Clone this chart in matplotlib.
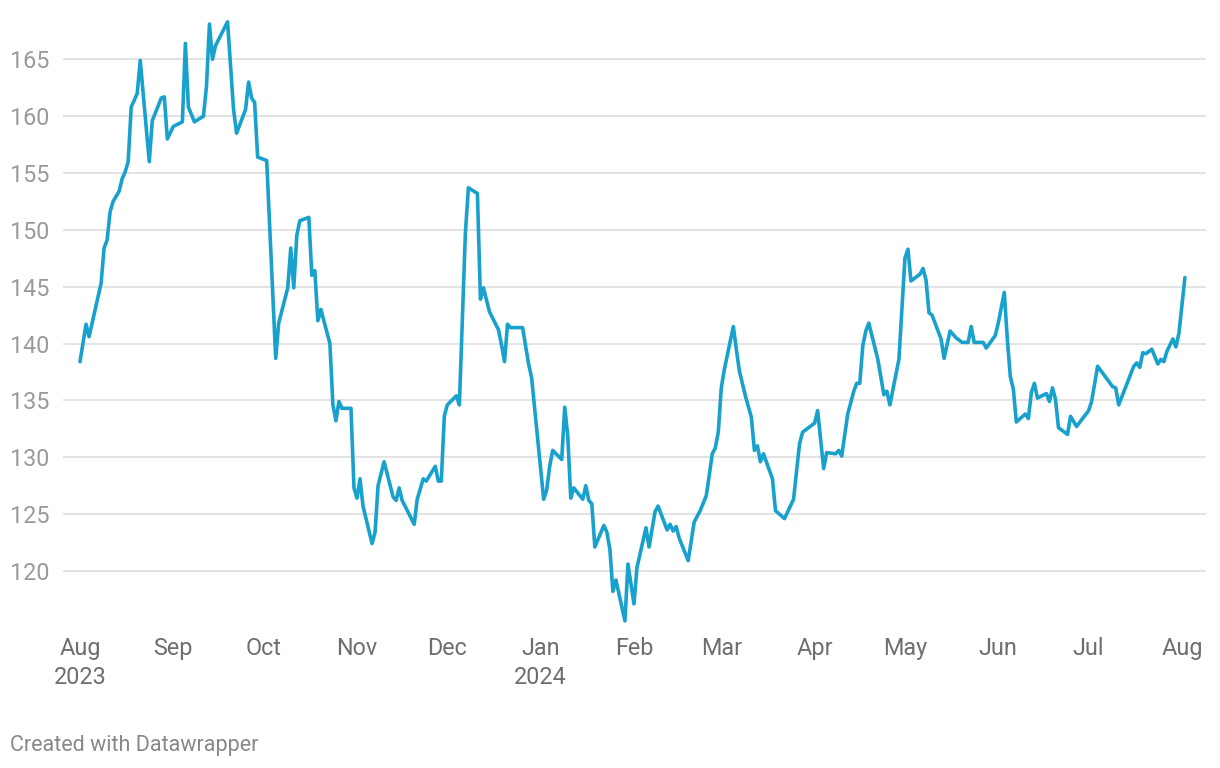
import matplotlib
matplotlib.use('Agg')
import matplotlib.pyplot as plt
import pandas as pd

dates = [
    '2023-08-01', '2023-08-03', '2023-08-04', '2023-08-08', '2023-08-09', '2023-08-10',
    '2023-08-11', '2023-08-12', '2023-08-14', '2023-08-15', '2023-08-16', '2023-08-17',
    '2023-08-18', '2023-08-20', '2023-08-21', '2023-08-24', '2023-08-25', '2023-08-28',
    '2023-08-29', '2023-08-30', '2023-09-01', '2023-09-04', '2023-09-05', '2023-09-06',
    '2023-09-08', '2023-09-11', '2023-09-12', '2023-09-13', '2023-09-14', '2023-09-15',
    '2023-09-19', '2023-09-21', '2023-09-22', '2023-09-25', '2023-09-26', '2023-09-27',
    '2023-09-28', '2023-09-29', '2023-10-02', '2023-10-05', '2023-10-06', '2023-10-09',
    '2023-10-10', '2023-10-11', '2023-10-12', '2023-10-13', '2023-10-16', '2023-10-17',
    '2023-10-18', '2023-10-19', '2023-10-20', '2023-10-23', '2023-10-24', '2023-10-25',
    '2023-10-26', '2023-10-27', '2023-10-30', '2023-10-31', '2023-11-01', '2023-11-02',
    '2023-11-03', '2023-11-06', '2023-11-07', '2023-11-08', '2023-11-10', '2023-11-13',
    '2023-11-14', '2023-11-15', '2023-11-16', '2023-11-20', '2023-11-21', '2023-11-23',
    '2023-11-24', '2023-11-27', '2023-11-28', '2023-11-29', '2023-11-30', '2023-12-01',
    '2023-12-04', '2023-12-05', '2023-12-07', '2023-12-08', '2023-12-11', '2023-12-12',
    '2023-12-13', '2023-12-15', '2023-12-18', '2023-12-19', '2023-12-20', '2023-12-21',
    '2023-12-22', '2023-12-26', '2023-12-28', '2023-12-29', '2024-01-02', '2024-01-03',
    '2024-01-04', '2024-01-05', '2024-01-08', '2024-01-09', '2024-01-10', '2024-01-11',
    '2024-01-12', '2024-01-15', '2024-01-16', '2024-01-17', '2024-01-18', '2024-01-19',
    '2024-01-22', '2024-01-23', '2024-01-24', '2024-01-25', '2024-01-26', '2024-01-29',
    '2024-01-30', '2024-02-01', '2024-02-02', '2024-02-05', '2024-02-06', '2024-02-08',
    '2024-02-09', '2024-02-12', '2024-02-13', '2024-02-14', '2024-02-15', '2024-02-16',
    '2024-02-19', '2024-02-21', '2024-02-23', '2024-02-25', '2024-02-26', '2024-02-27',
    '2024-02-28', '2024-02-29', '2024-03-01', '2024-03-02', '2024-03-05', '2024-03-06',
    '2024-03-07', '2024-03-09', '2024-03-11', '2024-03-12', '2024-03-13', '2024-03-14',
    '2024-03-15', '2024-03-18', '2024-03-19', '2024-03-22', '2024-03-25', '2024-03-27',
    '2024-03-28', '2024-04-01', '2024-04-02', '2024-04-04', '2024-04-05', '2024-04-08',
    '2024-04-09', '2024-04-10', '2024-04-12', '2024-04-14', '2024-04-15', '2024-04-16',
    '2024-04-17', '2024-04-18', '2024-04-19', '2024-04-22', '2024-04-24', '2024-04-25',
    '2024-04-26', '2024-04-29', '2024-05-01', '2024-05-02', '2024-05-03', '2024-05-06',
    '2024-05-07', '2024-05-08', '2024-05-09', '2024-05-10', '2024-05-13', '2024-05-14',
    '2024-05-16', '2024-05-18', '2024-05-20', '2024-05-22', '2024-05-23', '2024-05-24',
    '2024-05-27', '2024-05-28', '2024-05-31', '2024-06-01', '2024-06-03', '2024-06-04',
    '2024-06-05', '2024-06-06', '2024-06-07', '2024-06-10', '2024-06-11', '2024-06-12',
    '2024-06-13', '2024-06-14', '2024-06-17', '2024-06-18', '2024-06-19', '2024-06-20',
    '2024-06-21', '2024-06-24', '2024-06-25', '2024-06-27', '2024-06-29', '2024-07-01',
    '2024-07-02', '2024-07-04', '2024-07-09', '2024-07-10', '2024-07-11', '2024-07-16',
    '2024-07-17', '2024-07-18', '2024-07-19', '2024-07-20', '2024-07-22', '2024-07-24',
    '2024-07-25', '2024-07-26', '2024-07-27', '2024-07-29', '2024-07-30', '2024-07-31',
    '2024-08-02',
]

values = [
    138.4, 141.7, 140.6, 145.3, 148.4, 149.1,
    151.6, 152.5, 153.4, 154.5, 155.1, 156.0,
    160.8, 162.0, 164.9, 156.0, 159.6, 161.6,
    161.7, 158.0, 159.1, 159.5, 166.4, 160.8,
    159.5, 160.0, 162.6, 168.1, 165.0, 166.2,
    168.3, 160.6, 158.5, 160.6, 163.0, 161.6,
    161.2, 156.4, 156.1, 138.7, 141.8, 144.9,
    148.4, 144.9, 149.5, 150.8, 151.1, 146.0,
    146.4, 142.0, 143.0, 140.0, 134.6, 133.2,
    134.9, 134.3, 134.3, 127.3, 126.4, 128.1,
    125.7, 122.4, 123.4, 127.5, 129.6, 126.5,
    126.2, 127.3, 126.2, 124.1, 126.3, 128.1,
    127.9, 129.2, 127.9, 127.9, 133.6, 134.6,
    135.4, 134.6, 149.7, 153.7, 153.2, 143.9,
    144.9, 142.8, 141.2, 139.9, 138.4, 141.7,
    141.4, 141.4, 138.2, 137.0, 126.3, 127.1,
    129.2, 130.6, 129.8, 134.4, 131.9, 126.4,
    127.3, 126.3, 127.5, 126.2, 125.9, 122.1,
    124.0, 123.4, 121.9, 118.2, 119.2, 115.6,
    120.6, 117.1, 120.3, 123.8, 122.1, 125.2,
    125.7, 123.6, 124.1, 123.5, 123.9, 122.9,
    120.9, 124.3, 125.3, 126.6, 128.4, 130.3,
    130.8, 132.2, 136.1, 137.7, 141.5, 139.5,
    137.6, 135.4, 133.5, 130.6, 131.0, 129.6,
    130.3, 128.1, 125.3, 124.6, 126.3, 131.2,
    132.2, 133.0, 134.1, 129.0, 130.4, 130.3,
    130.6, 130.1, 133.8, 135.8, 136.5, 136.5,
    139.8, 141.1, 141.8, 138.6, 135.5, 135.8,
    134.6, 138.6, 147.5, 148.3, 145.5, 146.1,
    146.6, 145.6, 142.7, 142.5, 140.4, 138.7,
    141.1, 140.5, 140.1, 140.1, 141.5, 140.1,
    140.1, 139.6, 140.7, 141.8, 144.5, 140.4,
    137.1, 136.0, 133.1, 133.8, 133.4, 135.7,
    136.5, 135.2, 135.6, 134.9, 136.1, 135.1,
    132.6, 132.0, 133.6, 132.7, 133.4, 134.1,
    134.9, 138.0, 136.2, 136.1, 134.6, 138.0,
    138.3, 137.9, 139.2, 139.1, 139.5, 138.2,
    138.6, 138.4, 139.3, 140.4, 139.7, 140.9,
    145.8,
]

y_ticks = [120, 125, 130, 135, 140, 145, 150, 155, 160, 165]
month_ticks = pd.date_range('2023-08-01', '2024-08-01', freq='MS')
month_labels = ['Aug\n2023', 'Sep', 'Oct', 'Nov', 'Dec', 'Jan\n2024', 'Feb',
                'Mar', 'Apr', 'May', 'Jun', 'Jul', 'Aug']

plt.rcParams['font.family'] = ['Roboto', 'DejaVu Sans']

fig = plt.figure(figsize=(12.2, 7.68), dpi=100)
ax = fig.add_axes([63 / 1220, 1 - 630 / 768, (1206 - 63) / 1220, 615 / 768])

x = pd.to_datetime(dates)
ax.plot(x, values, color='#18a1cd', linewidth=2.6, solid_joinstyle='round',
        solid_capstyle='round', zorder=3)

start = pd.Timestamp('2023-08-01')
ax.set_xlim(start - pd.Timedelta(days=5.65), start + pd.Timedelta(days=374))
ax.set_ylim(114.8, 168.9)

ax.set_yticks(y_ticks)
ax.set_yticklabels([str(t) for t in y_ticks])
ax.set_xticks(month_ticks)
ax.set_xticklabels(month_labels, linespacing=1.35)

ax.grid(axis='y', color='#e3e3e3', linewidth=1.4)
ax.set_axisbelow(True)
for s in ax.spines.values():
    s.set_visible(False)

ax.tick_params(axis='y', length=0, pad=10, labelsize=16.8, labelcolor='#9a9a9a')
ax.tick_params(axis='x', length=0, pad=5, labelsize=16.8, labelcolor='#6e6e6e')

fig.text(10 / 1220, 1 - 745 / 768, 'Created with Datawrapper', fontsize=15.5,
         color='#888888', va='center', ha='left')

fig.savefig('out.png', dpi=100, facecolor='white')
